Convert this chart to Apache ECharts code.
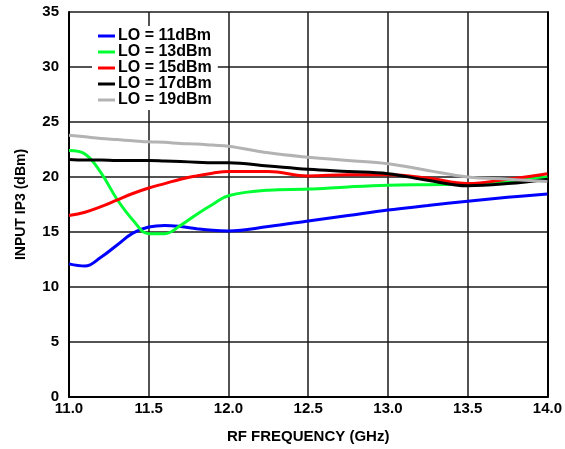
<!DOCTYPE html>
<html lang="en">
<head>
    <meta charset="UTF-8">
    <title>Input IP3 vs RF Frequency</title>
    <script src="https://cdn.jsdelivr.net/npm/echarts@6.0.0/dist/echarts.min.js"></script>
</head>
<body style="margin:0">
<div id="container" style="width:565px;height:449px"></div>

<script type="text/javascript">
    var freq = [11.0, 11.1, 11.2, 11.3, 11.4, 11.5, 11.6, 11.7, 11.8, 11.9, 12.0, 12.25, 12.5, 12.75, 13.0, 13.25, 13.5, 13.75, 14.0];
    var lo11 = [12.1, 11.9, 12.7, 13.8, 14.9, 15.45, 15.6, 15.5, 15.3, 15.15, 15.1, 15.5, 16.0, 16.5, 17.0, 17.4, 17.8, 18.15, 18.45];
    var lo13 = [22.4, 22.1, 20.4, 18.0, 16.1, 14.85, 14.85, 15.6, 16.6, 17.5, 18.3, 18.8, 18.9, 19.1, 19.25, 19.3, 19.35, 19.6, 20.0];
    var lo15 = [16.5, 16.8, 17.3, 17.9, 18.5, 19.0, 19.4, 19.8, 20.1, 20.35, 20.5, 20.5, 20.1, 20.2, 20.2, 19.9, 19.4, 19.8, 20.3];
    var lo17 = [21.6, 21.55, 21.55, 21.5, 21.5, 21.5, 21.45, 21.4, 21.35, 21.3, 21.3, 21.0, 20.7, 20.5, 20.3, 19.7, 19.2, 19.4, 19.8];
    var lo19 = [23.8, 23.65, 23.5, 23.4, 23.3, 23.2, 23.15, 23.05, 23.0, 22.9, 22.8, 22.2, 21.8, 21.5, 21.2, 20.6, 20.0, 19.8, 19.6];
    var names = ['LO = 11dBm', 'LO = 13dBm', 'LO = 15dBm', 'LO = 17dBm', 'LO = 19dBm'];
    var colors = ['#0000ff', '#00ff33', '#ff0000', '#000000', '#b3b3b3'];

    var dom = document.getElementById('container');
    var myChart = echarts.init(dom, null, { renderer: 'canvas' });

    function pairs(ys) {
        return freq.map(function (f, i) { return [f, ys[i]]; });
    }

    var all = [lo11, lo13, lo15, lo17, lo19];
    var series = all.map(function (ys, i) {
        return {
            name: names[i],
            type: 'line',
            smooth: 0.4,
            symbol: 'none',
            lineStyle: { width: 3, color: colors[i] },
            itemStyle: { color: colors[i] },
            data: pairs(ys)
        };
    });

    var font = 'Liberation Sans, Arial, sans-serif';
    var option = {
        animation: false,
        backgroundColor: '#fff',
        grid: { left: 69, right: 16, top: 12, bottom: 52, show: false },
        legend: {
            orient: 'vertical',
            left: 92,
            top: 26,
            itemWidth: 17,
            itemHeight: 3,
            itemGap: 0,
            padding: [2, 6, 2, 6],
            backgroundColor: '#fff',
            icon: 'rect',
            textStyle: { fontFamily: font, fontWeight: 'bold', fontSize: 16, color: '#000', padding: [0, 0, 0, -2] },
            data: names
        },
        xAxis: {
            type: 'value',
            min: 11,
            max: 14,
            interval: 0.5,
            name: 'RF FREQUENCY (GHz)',
            nameLocation: 'middle',
            nameGap: 32,
            nameTextStyle: { fontFamily: font, fontWeight: 'bold', fontSize: 15, color: '#000' },
            axisLine: { lineStyle: { color: '#000', width: 2 } },
            axisTick: { show: false },
            axisLabel: {
                fontFamily: font, fontWeight: 'bold', fontSize: 15, color: '#000', margin: 4,
                formatter: function (v) { return v.toFixed(1); }
            },
            splitLine: { show: true, lineStyle: { color: '#1a1a1a', width: 1.5 } }
        },
        yAxis: {
            type: 'value',
            min: 0,
            max: 35,
            interval: 5,
            name: 'INPUT IP3 (dBm)',
            nameLocation: 'middle',
            nameGap: 41,
            nameTextStyle: { fontFamily: font, fontWeight: 'bold', fontSize: 14, color: '#000' },
            axisLine: { show: true, lineStyle: { color: '#000', width: 2 } },
            axisTick: { show: false },
            axisLabel: { fontFamily: font, fontWeight: 'bold', fontSize: 15, color: '#000', margin: 10 },
            splitLine: { show: true, lineStyle: { color: '#1a1a1a', width: 1.5 } }
        },
        series: series
    };
    // right border
    option.yAxis = [option.yAxis, {
        type: 'value', min: 0, max: 35, interval: 5, position: 'right',
        axisLine: { show: true, lineStyle: { color: '#000', width: 2 } },
        axisTick: { show: false }, axisLabel: { show: false }, splitLine: { show: false }
    }];

    myChart.setOption(option);
    window.addEventListener('resize', myChart.resize);
</script>
</body>
</html>
